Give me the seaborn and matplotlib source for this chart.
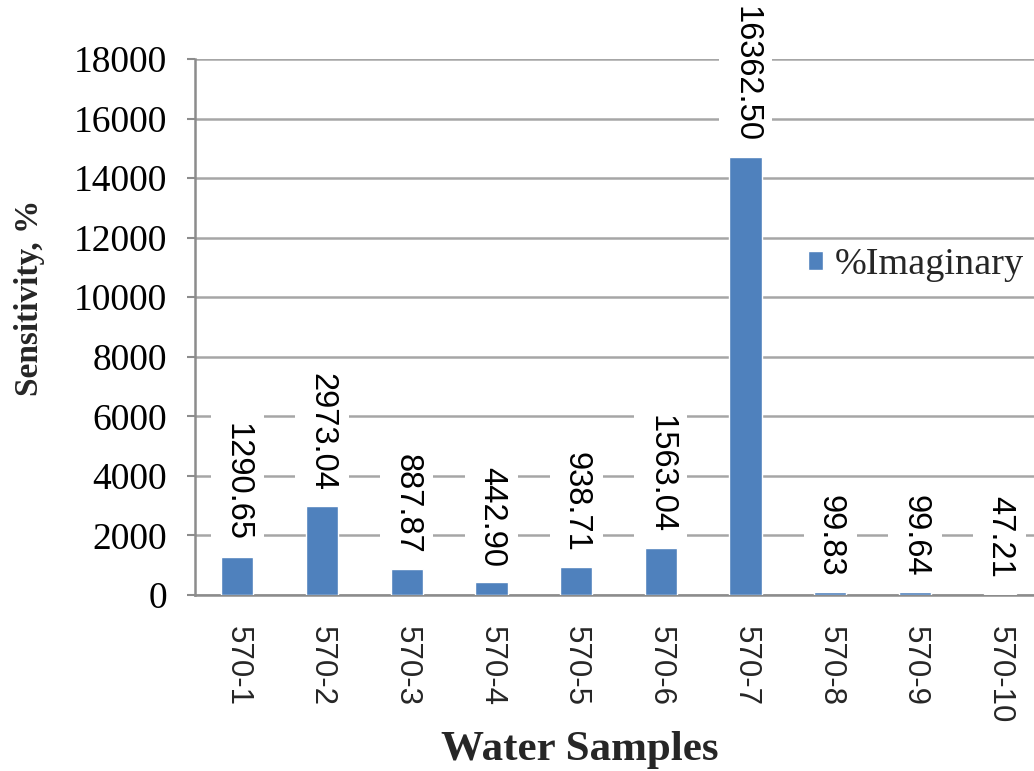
import pandas as pd
import matplotlib
matplotlib.use("Agg")
import matplotlib.pyplot as plt
import seaborn as sns

# data
samples = ['570-1', '570-2', '570-3', '570-4', '570-5',
           '570-6', '570-7', '570-8', '570-9', '570-10']
bar_values = [1290.65, 2973.04, 887.87, 442.90, 938.71,
              1563.04, 14700, 99.83, 99.64, 47.21]
bar_labels = ['1290.65', '2973.04', '887.87', '442.90', '938.71',
              '1563.04', '16362.50', '99.83', '99.64', '47.21']
y_ticks = [0, 2000, 4000, 6000, 8000, 10000, 12000, 14000, 16000, 18000]

df = pd.DataFrame({'sample': samples, 'value': bar_values})

sns.set_theme(style="white")
plt.rcParams['font.family'] = ['Liberation Serif', 'DejaVu Serif']

fig = plt.figure(figsize=(10.34, 7.71), dpi=100)
ax = fig.add_axes([195 / 1034, 1 - 595 / 771, 847 / 1034, 536 / 771])

sns.barplot(data=df, x='sample', y='value', color='#4F81BD', width=0.38,
            saturation=1, label='%Imaginary', ax=ax, zorder=3)

ax.set_ylim(0, 18000)
ax.set_xlim(-0.5, 9.5)
ax.set_yticks(y_ticks)
ax.yaxis.grid(True, color='#A6A6A6', linewidth=1.8, zorder=0)
ax.set_axisbelow(True)

for side in ['top', 'right']:
    ax.spines[side].set_visible(False)
for side in ['left', 'bottom']:
    ax.spines[side].set_color('#8C8C8C')
    ax.spines[side].set_linewidth(1.8)

ax.tick_params(axis='y', direction='out', length=6, width=1.5, color='#8C8C8C',
               labelsize=27, pad=14, left=True, labelcolor='black')
ax.tick_params(axis='x', length=0, pad=22)
for t in ax.get_xticklabels():
    t.set_rotation(-90)
    t.set_fontfamily(['Liberation Sans', 'DejaVu Sans'])
    t.set_fontsize(22.5)
    t.set_va('top')
    t.set_ha('center')

# value labels above bars, white box hides the grid
for i, (v, lab) in enumerate(zip(bar_values, bar_labels)):
    ax.annotate(lab, (i, v), textcoords='offset points', xytext=(0, 11),
                ha='center', va='bottom', rotation=-90, fontsize=23.5,
                family=['Liberation Sans', 'DejaVu Sans'], color='black',
                bbox=dict(facecolor='white', edgecolor='none', pad=8),
                zorder=4)

ax.set_ylabel('Sensitivity, %', fontsize=24, weight='bold')
ax.set_xlabel('Water Samples', fontsize=31, weight='bold')
ax.yaxis.set_label_coords(-150 / 847, (595 - 298) / 536)
ax.xaxis.set_label_coords((580 - 195) / 847, -(731 - 595) / 536)

leg = ax.legend(loc='center left', bbox_to_anchor=((808 - 195) / 847, (595 - 265) / 536),
                frameon=False, fontsize=27.5, handlelength=0.4, handleheight=0.4,
                handletextpad=0.3, borderpad=0, borderaxespad=0)

plt.savefig('out.png', dpi=100)
